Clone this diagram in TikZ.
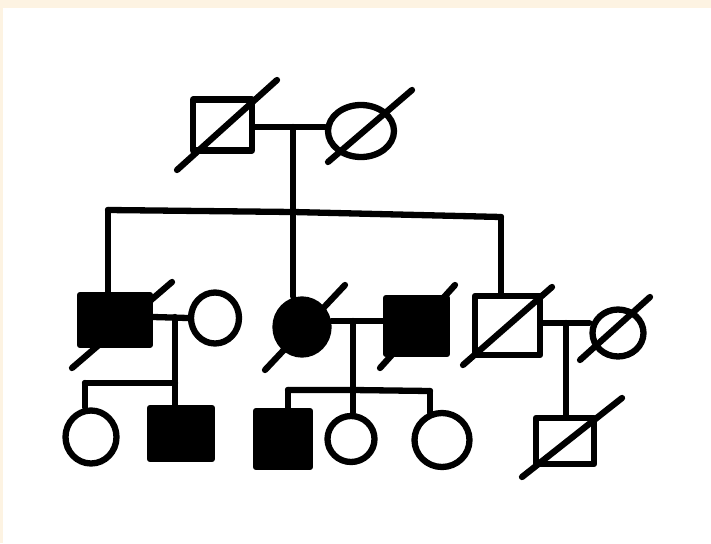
\documentclass[tikz,border=0pt]{standalone}
\usetikzlibrary{shapes.geometric}
\definecolor{cream}{HTML}{FDF3E2}
\tikzset{
  ln/.style={line width=6.3pt, line cap=round, line join=round},
  male/.style={draw, ln, rectangle, inner sep=0pt},
  female/.style={draw, ln, ellipse, inner sep=0pt},
  aff/.style={fill=black},
}
\begin{document}
\begin{tikzpicture}[x=1pt,y=-1pt]
\fill[cream] (0,0) rectangle (711,543);
\fill[white] (3,8) rectangle (711,543);
\useasboundingbox (0,0) rectangle (711,543);

% Generation I
\node[male, minimum width=59pt, minimum height=51pt] (I1) at (222.5,125) {};
\node[female, minimum width=66pt, minimum height=52pt] (I2) at (361,131) {};
\draw[ln] (I1.east |- 0,127) -- (I2.west |- 0,127);
\coordinate (dI1a) at (177,170); \coordinate (dI1b) at (277,80);
\coordinate (dI2a) at (328,162); \coordinate (dI2b) at (412,90);
\draw[ln] (dI1a) -- (dI1b);
\draw[ln] (dI2a) -- (dI2b);
\coordinate (m1) at (293,127);
\coordinate (s1) at (293,212);
\coordinate (s1L) at (108,210);
\coordinate (s1R) at (501,217);
\draw[ln] (m1) -- (s1);
\draw[ln] (s1L) -- (s1) -- (s1R);

% Generation II
\node[male, aff, minimum width=70pt, minimum height=50pt] (II1) at (115,320) {};
\node[female, minimum width=48pt, minimum height=51pt] (II2) at (215,318) {};
\node[female, aff, minimum width=53pt, minimum height=55pt] (II3) at (302,327) {};
\node[male, aff, minimum width=61pt, minimum height=56pt] (II4) at (416.5,326) {};
\node[male, minimum width=65pt, minimum height=59pt] (II5) at (507.5,325.5) {};
\node[female, minimum width=51pt, minimum height=47pt] (II6) at (618,333) {};
\draw[ln] (s1L) -- (s1L |- II1.north);
\draw[ln] (s1) -- (s1 |- II3.north);
\draw[ln] (s1R) -- (s1R |- II5.north);
\coordinate (dII1a) at (72,368); \coordinate (dII1b) at (172,282);
\coordinate (dII3a) at (265,370); \coordinate (dII3b) at (345,285);
\coordinate (dII4a) at (380,368); \coordinate (dII4b) at (455,285);
\coordinate (dII5a) at (463,365); \coordinate (dII5b) at (552,287);
\coordinate (dII6a) at (580,360); \coordinate (dII6b) at (650,297);
\draw[ln] (dII1a) -- (dII1b);
\draw[ln] (dII3a) -- (dII3b);
\draw[ln] (dII4a) -- (dII4b);
\draw[ln] (dII5a) -- (dII5b);
\draw[ln] (dII6a) -- (dII6b);
% marriages
\draw[ln] (II1.east |- 0,317) -- (II2.west);
\draw[ln] (II3.east |- 0,321) -- (II4.west |- 0,321);
\draw[ln] (II5.east |- 0,323) -- (II6.west |- 0,323);
\coordinate (m2) at (175,317);
\coordinate (m3) at (355,321);
\coordinate (m4) at (566,323);

% Generation III
\node[female, minimum width=51pt, minimum height=53pt] (III1) at (91,437) {};
\node[male, aff, minimum width=62pt, minimum height=51pt] (III2) at (181,433.5) {};
\node[male, aff, minimum width=54pt, minimum height=56pt] (III3) at (283,439) {};
\node[female, minimum width=47pt, minimum height=46pt] (III4) at (351,439) {};
\node[female, minimum width=55pt, minimum height=54pt] (III5) at (442,440) {};
\node[male, minimum width=58pt, minimum height=46pt] (III6) at (565,441) {};

\coordinate (s2) at (175,383);
\coordinate (s2L) at (85,383);
\draw[ln] (m2) -- (s2) -- (s2 |- III2.north);
\draw[ln] (s2L) -- (s2);
\draw[ln] (s2L) -- (s2L |- III1.north);

\coordinate (s3) at (353,390);
\coordinate (s3L) at (288,390);
\coordinate (s3R) at (430,391);
\draw[ln] (m3 -| s3) -- (s3) -- (s3 |- III4.north);
\draw[ln] (s3L) -- (s3) -- (s3R);
\draw[ln] (s3L) -- (s3L |- III3.north);
\draw[ln] (s3R) -- (s3R |- 0,413);

\draw[ln] (m4) -- (m4 |- III6.north);
\coordinate (dIII6a) at (522,477); \coordinate (dIII6b) at (622,398);
\draw[ln] (dIII6a) -- (dIII6b);
\end{tikzpicture}
\end{document}
